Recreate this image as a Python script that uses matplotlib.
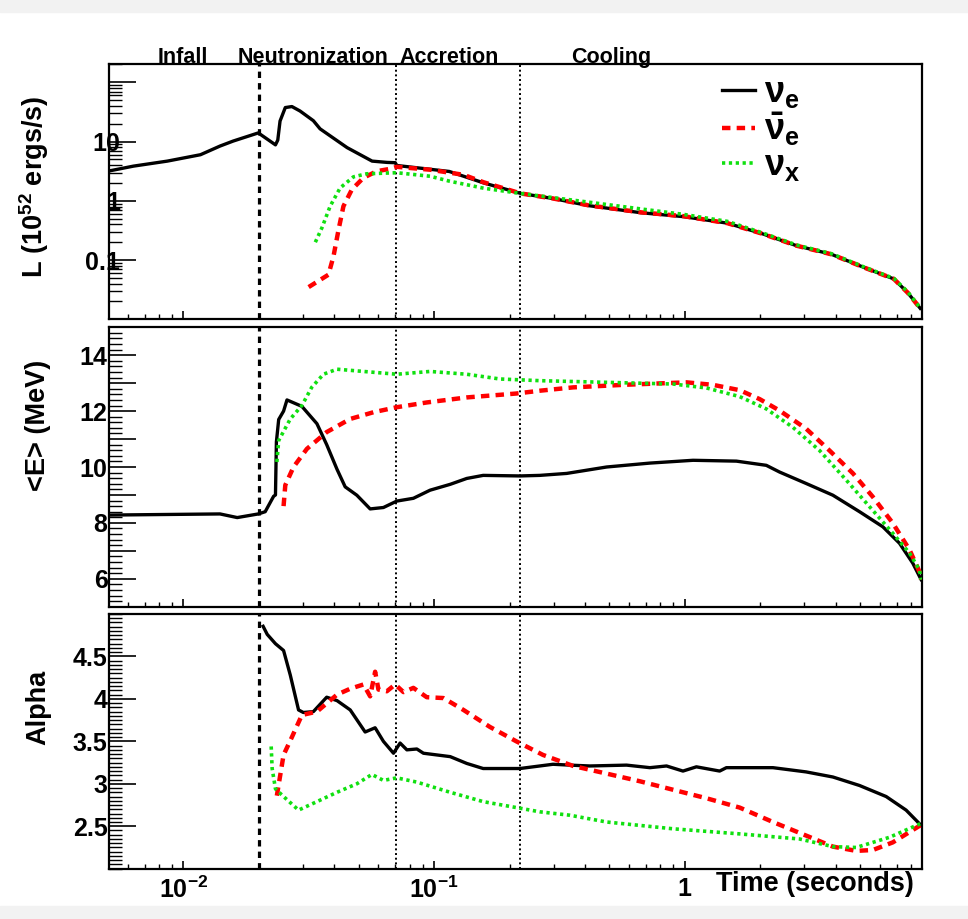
import matplotlib
matplotlib.use('Agg')
import matplotlib.pyplot as plt
from matplotlib.ticker import FixedLocator, FixedFormatter, MultipleLocator, LogLocator, NullFormatter, FuncFormatter
from matplotlib.lines import Line2D
from matplotlib.transforms import blended_transform_factory
from matplotlib.patches import Rectangle

plt.rcParams['font.family'] = ['Liberation Sans', 'DejaVu Sans']
plt.rcParams['font.weight'] = 'bold'
plt.rcParams['mathtext.fontset'] = 'custom'
plt.rcParams['mathtext.rm'] = 'Liberation Sans:bold'
plt.rcParams['mathtext.it'] = 'Liberation Sans:bold'
plt.rcParams['mathtext.bf'] = 'Liberation Sans:bold'
plt.rcParams['mathtext.sf'] = 'Liberation Sans:bold'

# ---------------- data ----------------
# Luminosity (1e52 erg/s)
t_L_nue = [0.00507, 0.00632, 0.00863, 0.0117, 0.0140, 0.0158, 0.0199, 0.0233, 0.0238,
           0.0243, 0.0255, 0.0271, 0.0292, 0.0330, 0.0351, 0.0450, 0.0566, 0.0650, 0.0700,
           0.0710, 0.115, 0.158, 0.222, 0.300, 0.413, 0.667, 0.991, 1.478, 2.03, 2.79,
           3.85, 5.29, 6.83, 7.76, 8.70]
L_nue = [3.2, 3.85, 4.68, 6.0, 8.4, 10.2, 14.0, 8.8, 10.6,
         22.2, 37.5, 39.0, 32.8, 22.5, 16.4, 7.9, 4.68, 4.45, 4.4,
         3.95, 3.13, 2.0, 1.33, 1.09, 0.83, 0.63, 0.54, 0.42, 0.28, 0.175,
         0.125, 0.0726, 0.048, 0.028, 0.0153]

t_L_nuebar = [0.0316, 0.0379, 0.0397, 0.0416, 0.0435, 0.0470, 0.0523, 0.0591, 0.0668,
              0.0710, 0.0964, 0.131, 0.158, 0.222, 0.300, 0.413, 0.667, 0.991, 1.478,
              2.03, 2.79, 3.85, 5.29, 6.83, 7.76, 8.70]
L_nuebar = [0.035, 0.0566, 0.1156, 0.327, 0.81, 1.55, 2.45, 3.16, 3.47,
            3.75, 3.35, 2.75, 2.05, 1.33, 1.09, 0.84, 0.64, 0.55, 0.42,
            0.28, 0.175, 0.125, 0.0726, 0.048, 0.028, 0.0153]

t_L_nux = [0.0336, 0.0357, 0.0385, 0.0422, 0.0477, 0.0539, 0.0710, 0.0964, 0.115,
           0.158, 0.222, 0.300, 0.413, 0.667, 0.991, 1.478, 2.03, 2.79, 3.85, 5.29,
           6.83, 7.76, 8.70]
L_nux = [0.2, 0.35, 0.81, 1.65, 2.54, 2.86, 2.98, 2.6, 2.15,
         1.63, 1.33, 1.13, 0.95, 0.73, 0.59, 0.45, 0.29, 0.18, 0.128, 0.074,
         0.049, 0.029, 0.0155]

# Mean energy (MeV)
t_E_nue = [0.00507, 0.0140, 0.0164, 0.0199, 0.0212, 0.0229, 0.0233, 0.0235, 0.0240,
           0.0251, 0.0259, 0.0297, 0.0341, 0.0373, 0.0410, 0.0442, 0.0492, 0.0556,
           0.0628, 0.0710, 0.0827, 0.0964, 0.116, 0.135, 0.157, 0.220, 0.264, 0.338,
           0.488, 0.726, 1.079, 1.607, 2.115, 2.389, 3.05, 3.90, 4.98, 6.17, 7.19,
           8.12, 8.77]
E_nue = [8.28, 8.32, 8.19, 8.32, 8.40, 8.95, 9.0, 10.9, 11.7,
         12.0, 12.4, 12.17, 11.55, 10.8, 9.92, 9.29, 8.99, 8.50,
         8.55, 8.78, 8.88, 9.17, 9.38, 9.59, 9.70, 9.68, 9.70, 9.77,
         10.0, 10.14, 10.24, 10.21, 10.06, 9.82, 9.41, 8.99, 8.40, 7.86, 7.27,
         6.56, 5.97]

t_E_nuebar = [0.0251, 0.0255, 0.0275, 0.0311, 0.0373, 0.0463, 0.0573, 0.0710, 0.0935,
              0.135, 0.213, 0.264, 0.359, 0.568, 1.016, 1.297, 1.656, 1.990, 2.389,
              3.05, 3.78, 4.69, 5.63, 6.76, 7.88, 8.63, 8.77]
E_nuebar = [8.6, 9.35, 10.0, 10.65, 11.25, 11.72, 11.96, 12.14, 12.31,
            12.49, 12.63, 12.73, 12.85, 12.94, 13.03, 12.94, 12.75, 12.43, 12.02,
            11.37, 10.59, 9.77, 8.93, 7.99, 7.04, 6.26, 5.97]

t_E_nux = [0.0236, 0.0240, 0.0267, 0.0297, 0.0325, 0.0362, 0.0410, 0.0523, 0.0710,
           0.0964, 0.135, 0.183, 0.264, 0.488, 0.898, 1.220, 1.656, 2.115, 2.70,
           3.45, 4.41, 5.46, 6.76, 7.88, 8.63, 8.77]
E_nux = [10.18, 10.95, 11.72, 12.2, 12.85, 13.32, 13.50, 13.42, 13.32,
         13.42, 13.32, 13.15, 13.09, 13.03, 12.97, 12.83, 12.52, 12.08, 11.42,
         10.59, 9.53, 8.58, 7.63, 6.92, 6.32, 5.97]

# Pinching parameter alpha
t_A_nue = [0.0208, 0.0216, 0.0233, 0.0251, 0.0267, 0.0288, 0.0301, 0.0330, 0.0373,
           0.0410, 0.0463, 0.0531, 0.0582, 0.0628, 0.0689, 0.0732, 0.0779, 0.0854,
           0.0907, 0.116, 0.135, 0.157, 0.220, 0.298, 0.348, 0.418, 0.586, 0.726,
           0.846, 0.984, 1.113, 1.378, 1.466, 2.248, 3.05, 3.90, 4.98, 6.36, 7.64, 8.77]
A_nue = [4.855, 4.76, 4.65, 4.57, 4.28, 3.87, 3.84, 3.85, 4.02,
         3.98, 3.87, 3.61, 3.66, 3.50, 3.36, 3.48, 3.40, 3.41,
         3.36, 3.32, 3.24, 3.18, 3.18, 3.23, 3.22, 3.21, 3.22, 3.19,
         3.21, 3.15, 3.20, 3.15, 3.19, 3.19, 3.14, 3.08, 2.98, 2.85, 2.69, 2.51]

t_A_nuebar = [0.0236, 0.0251, 0.0271, 0.0297, 0.0341, 0.0410, 0.0463, 0.0523, 0.0556,
              0.0582, 0.0600, 0.0648, 0.0700, 0.0755, 0.0827, 0.0935, 0.109, 0.131,
              0.167, 0.213, 0.272, 0.359, 0.488, 0.662, 0.898, 1.220, 1.656, 2.248,
              3.05, 3.90, 4.83, 5.63, 6.76, 8.70]
A_nuebar = [2.86, 3.34, 3.55, 3.81, 3.85, 4.05, 4.12, 4.17, 4.03,
            4.32, 4.11, 4.09, 4.17, 4.08, 4.13, 4.02, 4.01, 3.87,
            3.67, 3.50, 3.34, 3.21, 3.12, 3.03, 2.93, 2.83, 2.72, 2.55,
            2.39, 2.26, 2.21, 2.22, 2.31, 2.51]

t_A_nux = [0.0224, 0.0226, 0.0233, 0.0251, 0.0288, 0.0341, 0.0410, 0.0492, 0.0565,
           0.0628, 0.0710, 0.0854, 0.116, 0.157, 0.213, 0.264, 0.348, 0.488, 0.898,
           1.656, 2.87, 3.90, 4.83, 6.56, 8.70]
A_nux = [3.44, 3.18, 2.94, 2.85, 2.69, 2.79, 2.90, 3.00, 3.11,
         3.04, 3.07, 3.02, 2.90, 2.79, 2.72, 2.67, 2.63, 2.55, 2.47,
         2.41, 2.35, 2.26, 2.25, 2.37, 2.53]

phase_times = [0.0201, 0.0706, 0.22]
phase_names = ['Infall', 'Neutronization', 'Accretion', 'Cooling']
phase_label_t = [0.00995, 0.033, 0.1148, 0.507]

x_tick_vals = [0.01, 0.1, 1]
x_tick_labels = [r'$10^{-2}$', r'$10^{-1}$', '1']

# ---------------- style ----------------
C_NUE = 'black'
C_NUEBAR = '#ff0000'
C_NUX = '#10e010'
ST = dict(
    nue=dict(color=C_NUE, lw=2.4, ls='-'),
    nuebar=dict(color=C_NUEBAR, lw=3.2, ls=(0, (1.9, 1.4))),
    nux=dict(color=C_NUX, lw=2.6, ls=(0, (0.9, 1.0))),
)

fig = plt.figure(figsize=(9.68, 9.19), dpi=100)
fig.patches.append(Rectangle((0, 1 - 12 / 919), 1, 12 / 919, transform=fig.transFigure,
                             color='#f2f2f2', zorder=0))
fig.patches.append(Rectangle((0, 0), 1, 13 / 919, transform=fig.transFigure,
                             color='#f2f2f2', zorder=0))

L = 109 / 968
W = (921.5 - 109) / 968
ax1 = fig.add_axes([L, 1 - 319.3 / 919, W, (319.3 - 64.5) / 919])
ax2 = fig.add_axes([L, 1 - 606.7 / 919, W, (606.7 - 327.3) / 919])
ax3 = fig.add_axes([L, 1 - 868.7 / 919, W, (868.7 - 614) / 919])

for ax in (ax1, ax2, ax3):
    ax.set_xscale('log')
    ax.set_xlim(0.00505, 8.8)
    for sp in ax.spines.values():
        sp.set_linewidth(1.6)
    ax.xaxis.set_major_locator(FixedLocator(x_tick_vals))
    ax.xaxis.set_minor_locator(LogLocator(base=10, subs=range(2, 10), numticks=20))
    ax.xaxis.set_minor_formatter(NullFormatter())
    ax.tick_params(axis='both', which='both', direction='in', top=False, right=False,
                   labelsize=18)
    ax.tick_params(axis='x', which='major', length=6, width=1.2, pad=6)
    ax.tick_params(axis='x', which='minor', length=3.5, width=1.0)
    ax.tick_params(axis='y', which='major', length=19.5, width=1.2)
    ax.tick_params(axis='y', which='minor', length=9.5, width=1.0)
    for tt, lst in zip(phase_times, [(0, (2.0, 1.6)), (0, (1, 1.4)), (0, (1, 1.4))]):
        ax.axvline(tt, color='black', lw=2.3 if tt == phase_times[0] else 1.4,
                   ls=lst, zorder=1)

ax1.xaxis.set_major_formatter(NullFormatter())
ax2.xaxis.set_major_formatter(NullFormatter())
ax3.xaxis.set_major_formatter(FixedFormatter(x_tick_labels))

# top panel
ax1.plot(t_L_nue, L_nue, **ST['nue'], zorder=3)
ax1.plot(t_L_nuebar, L_nuebar, **ST['nuebar'], zorder=4)
ax1.plot(t_L_nux, L_nux, **ST['nux'], zorder=5)
ax1.set_yscale('log')
ax1.set_ylim(0.01, 200)
ax1.yaxis.set_major_locator(FixedLocator([0.01, 0.1, 1, 10, 100]))
ax1.yaxis.set_major_formatter(FixedFormatter(['', '0.1', '1', '10', '']))
ax1.yaxis.set_minor_locator(LogLocator(base=10, subs=range(2, 10), numticks=20))
ax1.yaxis.set_minor_formatter(NullFormatter())
ax1.tick_params(axis='y', which='major', pad=-8)
ax1.set_ylabel(r'L (10$^{52}$ ergs/s)', fontsize=19.5, fontweight='bold')
ax1.yaxis.set_label_coords(-0.0714, 0.519)

trans = blended_transform_factory(ax1.transData, ax1.transAxes)
for name, tx in zip(phase_names, phase_label_t):
    ax1.text(tx, 1.028, name, transform=trans, ha='center', va='center',
             fontsize=15.5, fontweight='bold')

handles = [Line2D([], [], **ST['nue']), Line2D([], [], **ST['nuebar']),
           Line2D([], [], **ST['nux'])]
labels = [r'$\nu_{e}$', r'$\bar{\nu}_{e}$', r'$\nu_{x}$']
ax1.legend(handles, labels, loc='upper left', bbox_to_anchor=(0.755, 0.958),
           frameon=False, fontsize=26, handlelength=0.9, handletextpad=0.25,
           labelspacing=0.0, borderpad=0, borderaxespad=0)

# middle panel
ax2.plot(t_E_nue, E_nue, **ST['nue'], zorder=3)
ax2.plot(t_E_nuebar, E_nuebar, **ST['nuebar'], zorder=4)
ax2.plot(t_E_nux, E_nux, **ST['nux'], zorder=5)
ax2.set_ylim(5, 15)
ax2.yaxis.set_major_locator(MultipleLocator(1))
ax2.yaxis.set_major_formatter(FuncFormatter(lambda v, p: '%d' % v if (round(v) % 2 == 0 and 5 < v < 15) else ''))
ax2.yaxis.set_minor_locator(MultipleLocator(0.2))
ax2.tick_params(axis='y', which='major', pad=1)
ax2.set_ylabel('<E> (MeV)', fontsize=19.5, fontweight='bold')
ax2.yaxis.set_label_coords(-0.0714, 0.650)

# bottom panel
ax3.plot(t_A_nue, A_nue, **ST['nue'], zorder=3)
ax3.plot(t_A_nuebar, A_nuebar, **ST['nuebar'], zorder=4)
ax3.plot(t_A_nux, A_nux, **ST['nux'], zorder=5)
ax3.set_ylim(2, 5)
ax3.yaxis.set_major_locator(FixedLocator([2.5, 3, 3.5, 4, 4.5]))
ax3.yaxis.set_major_formatter(FixedFormatter(['2.5', '3', '3.5', '4', '4.5']))
ax3.yaxis.set_minor_locator(MultipleLocator(0.05))
ax3.tick_params(axis='y', which='major', pad=1)
ax3.set_ylabel('Alpha', fontsize=19.5, fontweight='bold')
ax3.yaxis.set_label_coords(-0.0714, 0.635)
ax3.text(0.991, -0.06, 'Time (seconds)', transform=ax3.transAxes, ha='right',
         va='center', fontsize=19.5, fontweight='bold')

fig.savefig('out.png', dpi=100)
